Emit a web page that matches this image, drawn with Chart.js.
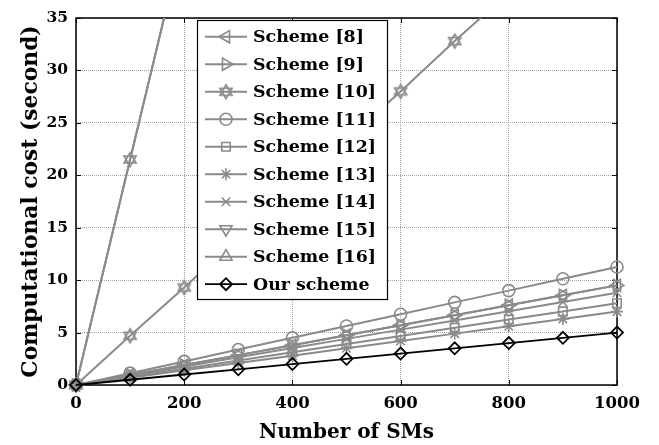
<!DOCTYPE html>
<html>
<head>
<meta charset="utf-8">
<script src="https://cdn.jsdelivr.net/npm/chart.js@4.4.1/dist/chart.umd.min.js"></script>
<style>
  html, body { margin: 0; padding: 0; background: #fff; }
  #wrap { width: 659px; height: 445px; position: relative; }
</style>
</head>
<body>
<div id="wrap"><canvas id="c" width="659" height="445"></canvas></div>
<script>
// Number of smart meters on the x axis
const smCounts = [0, 100, 200, 300, 400, 500, 600, 700, 800, 900, 1000];

// Computational cost (seconds) per scheme
const scheme8  = [0, 0.95, 1.9, 2.85, 3.8, 4.75, 5.7, 6.65, 7.6, 8.55, 9.5];
const scheme9  = [0, 0.95, 1.9, 2.85, 3.8, 4.75, 5.7, 6.65, 7.6, 8.55, 9.5];
const scheme10 = [0, 4.7, 9.3, 14.0, 18.7, 23.4, 28.0, 32.8, 37.4, 42.1, 46.8];
const scheme11 = [0, 1.13, 2.25, 3.38, 4.5, 5.63, 6.75, 7.88, 9.0, 10.13, 11.25];
const scheme12 = [0, 0.78, 1.56, 2.34, 3.12, 3.9, 4.68, 5.46, 6.24, 7.02, 7.8];
const scheme13 = [0, 0.7, 1.4, 2.1, 2.8, 3.5, 4.2, 4.9, 5.6, 6.3, 7.0];
const scheme14 = [0, 0.88, 1.76, 2.64, 3.52, 4.4, 5.28, 6.16, 7.04, 7.92, 8.8];
const scheme15 = [0, 21.5, 43, 64.5, 86, 107.5, 129, 150.5, 172, 193.5, 215];
const scheme16 = [0, 21.5, 43, 64.5, 86, 107.5, 129, 150.5, 172, 193.5, 215];
const ourScheme = [0, 0.5, 1.0, 1.5, 2.0, 2.5, 3.0, 3.5, 4.0, 4.5, 5.0];

const seriesNames = ['Scheme [8]', 'Scheme [9]', 'Scheme [10]', 'Scheme [11]', 'Scheme [12]',
  'Scheme [13]', 'Scheme [14]', 'Scheme [15]', 'Scheme [16]', 'Our scheme'];
const seriesValues = [scheme8, scheme9, scheme10, scheme11, scheme12,
  scheme13, scheme14, scheme15, scheme16, ourScheme];

const xTicks = [0, 200, 400, 600, 800, 1000];
const yTicks = [0, 5, 10, 15, 20, 25, 30, 35];

const GRAY = '#8a8a8a';
const SERIF = '"DejaVu Serif", serif';

// Six-pointed star marker (two overlaid triangles)
function makeHexagram(color, r, lw) {
  const s = Math.ceil(2 * r + 4);
  const cv = document.createElement('canvas');
  cv.width = s; cv.height = s;
  const g = cv.getContext('2d');
  g.strokeStyle = color; g.lineWidth = lw;
  const c = s / 2;
  [0, Math.PI].forEach(off => {
    g.beginPath();
    for (let k = 0; k < 3; k++) {
      const a = off + k * 2 * Math.PI / 3;
      const px = c + Math.sin(a) * r, py = c - Math.cos(a) * r;
      k === 0 ? g.moveTo(px, py) : g.lineTo(px, py);
    }
    g.closePath();
    g.stroke();
  });
  return cv;
}
const hexagram = makeHexagram(GRAY, 7, 1.6);

const markerStyles = [
  { pointStyle: 'triangle', rotation: -90, radius: 7 },
  { pointStyle: 'triangle', rotation: 90, radius: 7 },
  { pointStyle: hexagram, rotation: 0, radius: 7 },
  { pointStyle: 'circle', rotation: 0, radius: 6 },
  { pointStyle: 'rect', rotation: 0, radius: 6 },
  { pointStyle: 'star', rotation: 0, radius: 6 },
  { pointStyle: 'crossRot', rotation: 0, radius: 6 },
  { pointStyle: 'triangle', rotation: 180, radius: 7 },
  { pointStyle: 'triangle', rotation: 0, radius: 7 },
  { pointStyle: 'rectRot', rotation: 0, radius: 6 }
];

const datasets = seriesValues.map((vals, i) => {
  const isOurs = i === seriesValues.length - 1;
  const col = isOurs ? '#000000' : GRAY;
  const m = markerStyles[i];
  return {
    label: seriesNames[i],
    data: vals.map((v, j) => ({ x: smCounts[j], y: v })),
    borderColor: col,
    backgroundColor: col,
    borderWidth: isOurs ? 1.8 : 2,
    pointStyle: m.pointStyle,
    pointRotation: m.rotation,
    pointRadius: m.radius,
    pointBorderWidth: isOurs ? 1.8 : 1.6,
    pointBorderColor: col,
    pointBackgroundColor: 'rgba(0,0,0,0)',
    tension: 0,
    clip: { left: 10, right: 10, top: 0, bottom: 10 },
    order: isOurs ? 0 : 1
  };
});

// Frame around the plot with inward tick marks
const framePlugin = {
  id: 'frame',
  beforeDatasetsDraw(chart) {
    const { ctx, chartArea: a, scales } = chart;
    ctx.save();
    ctx.strokeStyle = '#000';
    ctx.lineWidth = 1.5;
    ctx.strokeRect(a.left, a.top, a.right - a.left, a.bottom - a.top);
    ctx.lineWidth = 1;
    const t = 5;
    xTicks.forEach(v => {
      const x = Math.round(scales.x.getPixelForValue(v)) + 0.5;
      ctx.beginPath();
      ctx.moveTo(x, a.bottom); ctx.lineTo(x, a.bottom - t);
      ctx.moveTo(x, a.top); ctx.lineTo(x, a.top + t);
      ctx.stroke();
    });
    yTicks.forEach(v => {
      const y = Math.round(scales.y.getPixelForValue(v)) + 0.5;
      ctx.beginPath();
      ctx.moveTo(a.left, y); ctx.lineTo(a.left + t, y);
      ctx.moveTo(a.right, y); ctx.lineTo(a.right - t, y);
      ctx.stroke();
    });
    ctx.restore();
  }
};

// Boxed legend inside the plot area
const legendPlugin = {
  id: 'boxLegend',
  afterDraw(chart) {
    const { ctx, chartArea: a } = chart;
    const bx = a.left + 121, by = a.top + 2, bw = 190, bh = 279;
    ctx.save();
    ctx.fillStyle = '#fff';
    ctx.fillRect(bx, by, bw, bh);
    ctx.strokeStyle = '#000';
    ctx.lineWidth = 1.2;
    ctx.strokeRect(bx + 0.5, by + 0.5, bw, bh);
    ctx.font = 'bold 17.4px ' + SERIF;
    ctx.textBaseline = 'middle';
    chart.data.datasets.forEach((ds, i) => {
      const y = by + 16.7 + i * 27.5;
      ctx.strokeStyle = ds.borderColor;
      ctx.lineWidth = ds.borderWidth;
      ctx.beginPath();
      ctx.moveTo(bx + 8, y); ctx.lineTo(bx + 50, y);
      ctx.stroke();
      ctx.lineWidth = ds.pointBorderWidth;
      ctx.fillStyle = 'rgba(0,0,0,0)';
      Chart.helpers.drawPoint(ctx, {
        pointStyle: ds.pointStyle,
        rotation: ds.pointRotation,
        radius: ds.pointRadius,
        borderWidth: ds.pointBorderWidth
      }, bx + 29, y);
      ctx.fillStyle = '#000';
      ctx.fillText(ds.label, bx + 56, y + 1);
    });
    ctx.restore();
  }
};

new Chart(document.getElementById('c'), {
  type: 'line',
  data: { datasets },
  plugins: [framePlugin, legendPlugin],
  options: {
    responsive: false,
    animation: false,
    events: [],
    layout: { padding: { left: 0, right: 42, top: 18, bottom: 0 } },
    plugins: { legend: { display: false }, tooltip: { enabled: false } },
    scales: {
      x: {
        type: 'linear',
        min: 0, max: 1000,
        afterBuildTicks(s) { s.ticks = xTicks.map(v => ({ value: v })); },
        afterFit(s) { s.height = 60; },
        grid: { color: '#a0a0a0', lineWidth: 1, drawTicks: false },
        border: { display: false, dash: [1, 1] },
        ticks: {
          color: '#000', padding: 9, maxRotation: 0,
          callback: v => String(v),
          font: { family: SERIF, size: 16.5, weight: 'bold' }
        },
        title: {
          display: true, text: 'Number of SMs', color: '#000',
          font: { family: SERIF, size: 20, weight: 'bold' },
          padding: { top: 0, bottom: 0 }
        }
      },
      y: {
        type: 'linear',
        min: 0, max: 35,
        afterBuildTicks(s) { s.ticks = yTicks.map(v => ({ value: v })); },
        afterFit(s) { s.width = 76; },
        grid: { color: '#a0a0a0', lineWidth: 1, drawTicks: false },
        border: { display: false, dash: [1, 1] },
        ticks: { color: '#000', padding: 8, font: { family: SERIF, size: 15.5, weight: 'bold' } },
        title: {
          display: true, text: 'Computational cost (second)', color: '#000',
          font: { family: SERIF, size: 21.8, weight: 'bold' },
          padding: { top: 18, bottom: 0 }
        }
      }
    }
  }
});
</script>
</body>
</html>
